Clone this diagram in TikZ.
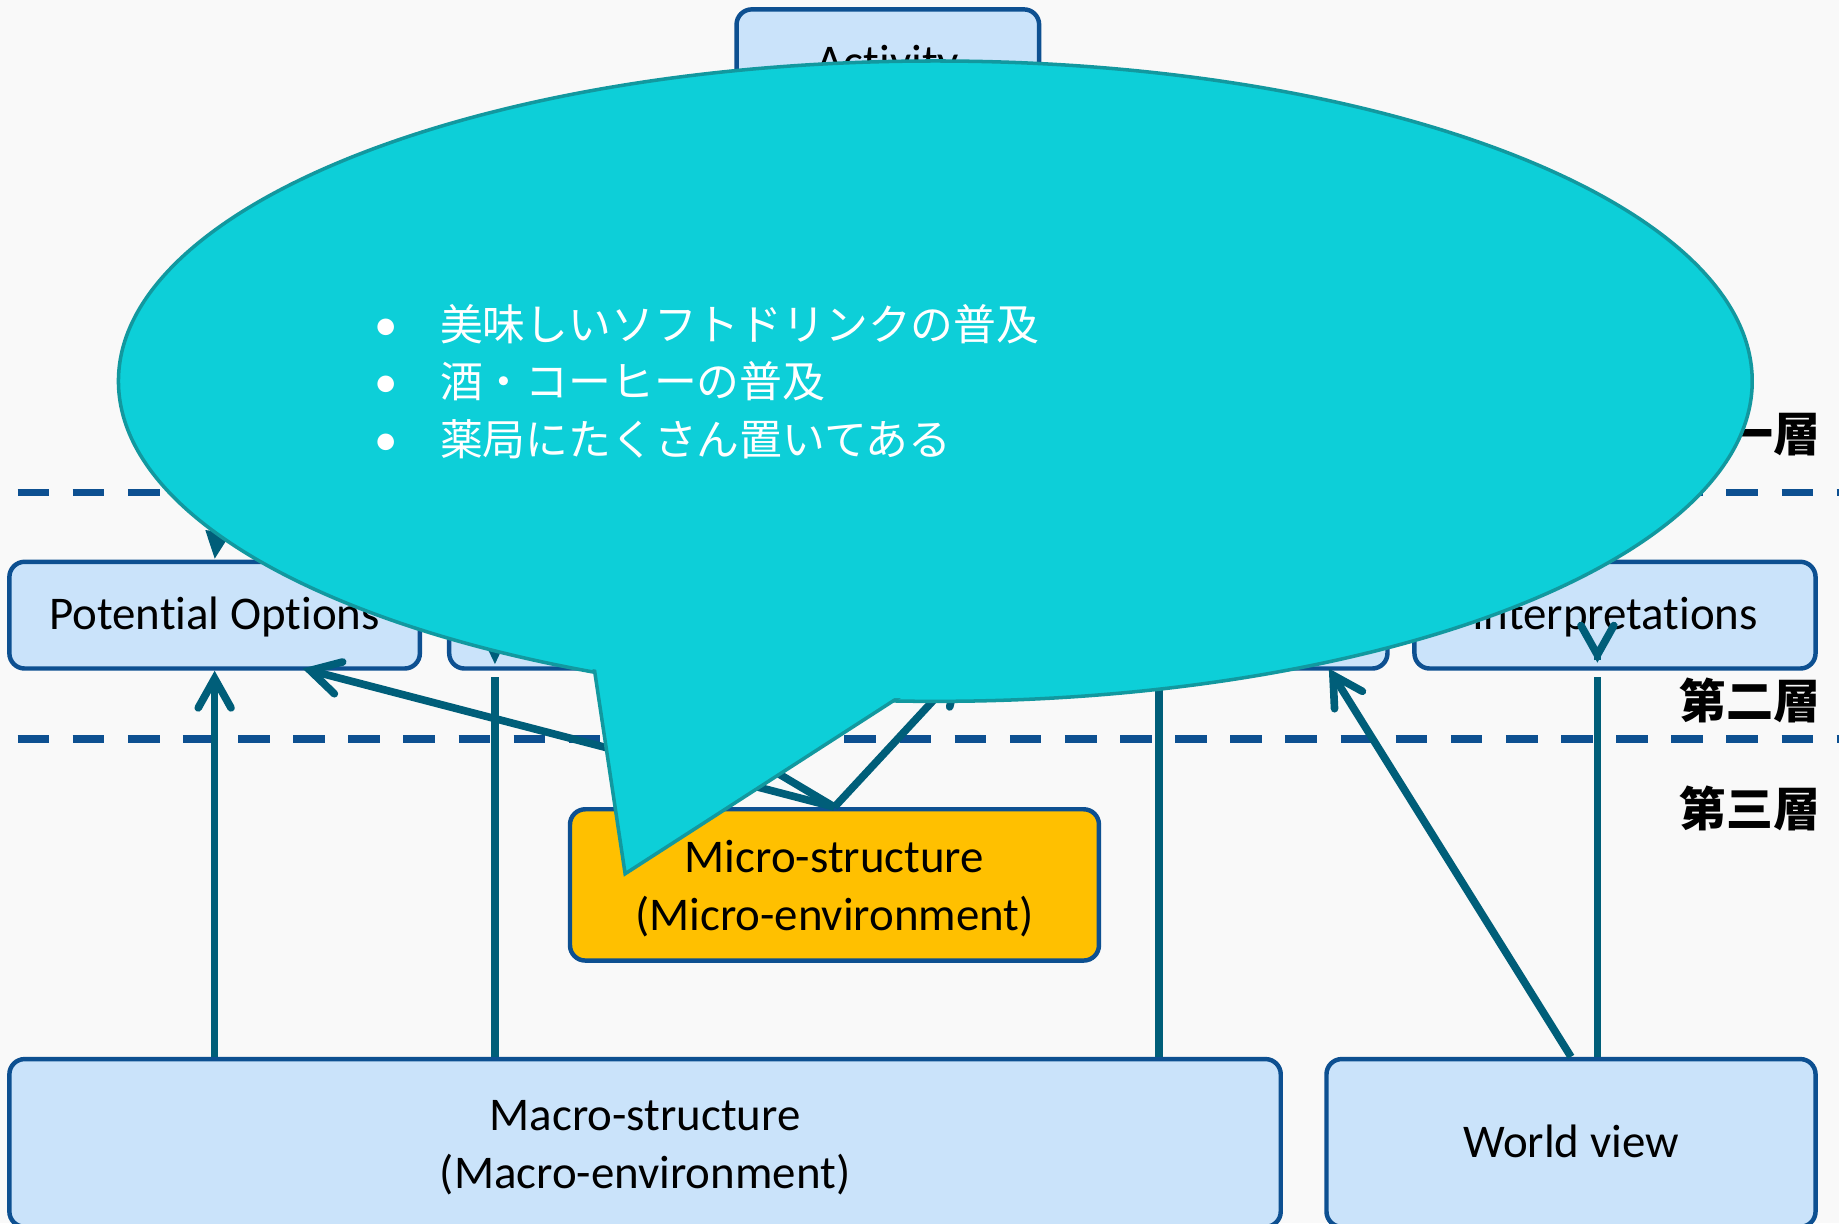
\documentclass[tikz,border=0pt]{standalone}
\usepackage{fontspec}
\setmainfont{Carlito}[Ligatures=NoCommon, RawFeature={-liga}]
\newfontfamily\cjk{Noto Sans CJK JP}
\usetikzlibrary{arrows.meta}

\definecolor{bgc}{HTML}{F9F9F9}
\definecolor{boxfill}{HTML}{CAE3FA}
\definecolor{boxline}{HTML}{0D5091}
\definecolor{linkc}{HTML}{005E79}
\definecolor{microfill}{HTML}{FFC000}
\definecolor{bubble}{HTML}{0DCFD8}
\definecolor{bubbleline}{HTML}{12989F}

\tikzset{
  layerbox/.style={draw=boxline, fill=boxfill, line width=3.8pt, rounded corners=13pt,
    inner sep=0pt, align=center, font=\fontsize{40}{49}\selectfont},
  oneline/.style={text height=30pt, text depth=5pt},
  microbox/.style={layerbox, fill=microfill},
  layerline/.style={draw=boxline, line width=6.5pt, dash pattern=on 27pt off 20pt},
  link/.style={draw=linkc, line width=6.5pt},
  openarrow/.style={link, -{Straight Barb[length=25pt, width=28pt, line cap=round]}},
  filledarrow/.style={link, -{Triangle[length=24pt, width=20pt]}},
  layerlabel/.style={font=\cjk\bfseries\fontsize{40}{48}\selectfont, anchor=base east, inner sep=0pt},
  bulletline/.style={font=\cjk\fontsize{36.5}{49}\selectfont, text=white, anchor=base west, inner sep=0pt},
}
% raises the first line of a two-line box label
\newcommand{\firstlinestrut}{\rule{0pt}{34pt}}

\begin{document}
\begin{tikzpicture}[x=1pt, y=-1pt]
\useasboundingbox (0,0) rectangle (1568,1043);
\fill[bgc] (0,0) rectangle (1568,1043);

% layer separators
\draw[layerline] (15,420) -- (1568,420);
\draw[layerline] (15,630) -- (1568,630);

% layer labels
\node[layerlabel] (lab1) at (1552,385) {第一層};
\node[layerlabel] (lab2) at (1552,613) {第二層};
\node[layerlabel] (lab3) at (1552,705) {第三層};

% boxes
\node[layerbox, oneline, minimum width=258pt, minimum height=91pt] (act) at (757,53.5) {Activity};
\node[layerbox, oneline, minimum width=350pt, minimum height=91pt] (po) at (183,524.5) {Potential Options};
\node[layerbox, minimum width=387pt, minimum height=91pt] (b2) at (576.5,524.5) {};
\node[layerbox, minimum width=388pt, minimum height=91pt] (b3) at (989,524.5) {};
\node[layerbox, oneline, minimum width=342pt, minimum height=91pt] (interp) at (1377,524.5) {Interpretations};
\node[microbox, minimum width=451pt, minimum height=129pt] (micro) at (711.5,754.5) {\firstlinestrut Micro-structure\\(Micro-environment)};
\node[layerbox, minimum width=1084pt, minimum height=143pt] (macro) at (550,974.5) {\firstlinestrut Macro-structure\\(Macro-environment)};
\node[layerbox, oneline, minimum width=417pt, minimum height=143pt] (world) at (1339.5,974.5) {World view};

% connector end points on the box edges
\coordinate (poM) at (258,570);
\coordinate (b2M) at (513,570);
\coordinate (b3M) at (821,570);
\coordinate (b3W) at (1133,570);
\coordinate (b2foot) at (422,577);
\coordinate (b3foot) at (988,577);
\coordinate (inFoot) at (1362,577);
\coordinate (b2top) at (422,567);
\coordinate (inTip) at (1362,565);

% connectors from the third layer
\draw[openarrow] (po.south |- macro.north) -- (po.south);
\draw[link] (b2foot |- macro.north) -- (b2foot);
\draw[link] (b3foot |- macro.north) -- (b3foot);
\draw[link] (inFoot |- world.north) -- (inFoot);
\draw[openarrow] (world.north) -- (b3W);
\draw[openarrow] (micro.north) -- (poM);
\draw[openarrow] (micro.north) -- (b2M);
\draw[openarrow] (micro.north) -- (b3M);

% connectors from the first layer
\draw[filledarrow] (act.south) .. controls (400,150) and (195,380) .. (po.north);
\draw[filledarrow] (act.south) .. controls (520,200) and (422,420) .. (b2top);
\draw[openarrow] (1362,563) -- (inTip);

% speech bubble
\draw[draw=bubbleline, fill=bubble, line width=3pt] (797.5,325) ellipse [x radius=696.5pt, y radius=273pt];
\draw[draw=bubbleline, fill=bubble, line width=3pt, line join=miter] (502,539) -- (533,745) -- (809,567) -- cycle;
\fill[bubble] (797.5,325) ellipse [x radius=694pt, y radius=270.5pt];

\node[bulletline] (t1) at (375,290) {\llap{\rmfamily\fontsize{40}{49}\selectfont\textbullet\hspace{36pt}}美味しいソフトドリンクの普及};
\node[bulletline] (t2) at (375,339) {\llap{\rmfamily\fontsize{40}{49}\selectfont\textbullet\hspace{36pt}}酒・コーヒーの普及};
\node[bulletline] (t3) at (375,388) {\llap{\rmfamily\fontsize{40}{49}\selectfont\textbullet\hspace{36pt}}薬局にたくさん置いてある};
\end{tikzpicture}
\end{document}
